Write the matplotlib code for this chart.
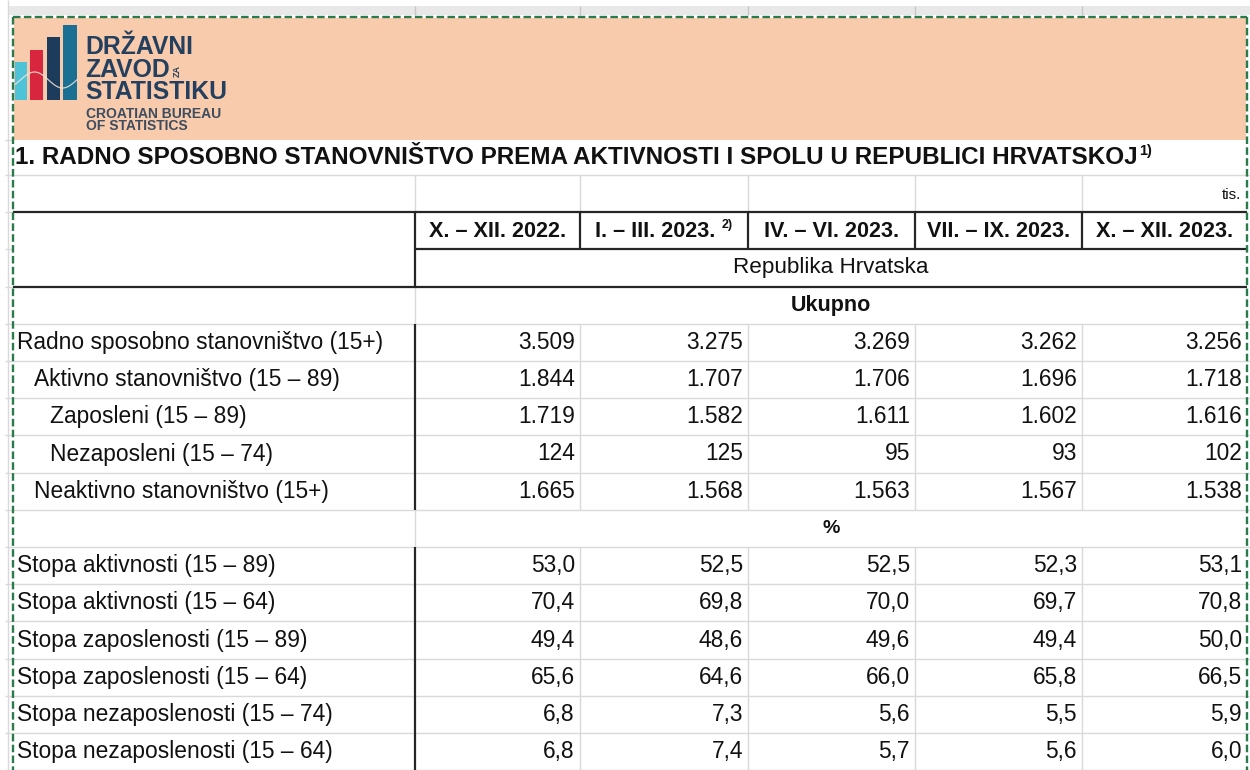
import matplotlib
matplotlib.use("Agg")
import matplotlib.pyplot as plt
from matplotlib.patches import Rectangle
import numpy as np

# ---------------- data ----------------
title = "1. RADNO SPOSOBNO STANOVNIŠTVO PREMA AKTIVNOSTI I SPOLU U REPUBLICI HRVATSKOJ"
title_note = "1)"
unit_label = "tis."
periods = ["X. – XII. 2022.", "I. – III. 2023.", "IV. – VI. 2023.", "VII. – IX. 2023.", "X. – XII. 2023."]
period_notes = ["", "2)", "", "", ""]
region = "Republika Hrvatska"
section_counts = "Ukupno"
section_rates = "%"

count_labels = ["Radno sposobno stanovništvo (15+)", "Aktivno stanovništvo (15 – 89)",
                "Zaposleni (15 – 89)", "Nezaposleni (15 – 74)", "Neaktivno stanovništvo (15+)"]
count_indent = [0, 1, 2, 2, 1]
radno = [3509, 3275, 3269, 3262, 3256]
aktivno = [1844, 1707, 1706, 1696, 1718]
zaposleni = [1719, 1582, 1611, 1602, 1616]
nezaposleni = [124, 125, 95, 93, 102]
neaktivno = [1665, 1568, 1563, 1567, 1538]
count_values = [radno, aktivno, zaposleni, nezaposleni, neaktivno]

rate_labels = ["Stopa aktivnosti (15 – 89)", "Stopa aktivnosti (15 – 64)",
               "Stopa zaposlenosti (15 – 89)", "Stopa zaposlenosti (15 – 64)",
               "Stopa nezaposlenosti (15 – 74)", "Stopa nezaposlenosti (15 – 64)"]
stopa_akt_89 = [53.0, 52.5, 52.5, 52.3, 53.1]
stopa_akt_64 = [70.4, 69.8, 70.0, 69.7, 70.8]
stopa_zap_89 = [49.4, 48.6, 49.6, 49.4, 50.0]
stopa_zap_64 = [65.6, 64.6, 66.0, 65.8, 66.5]
stopa_nez_74 = [6.8, 7.3, 5.6, 5.5, 5.9]
stopa_nez_64 = [6.8, 7.4, 5.7, 5.6, 6.0]
rate_values = [stopa_akt_89, stopa_akt_64, stopa_zap_89, stopa_zap_64, stopa_nez_74, stopa_nez_64]

# ---------------- layout / style ----------------
W, H = 1250, 770
FONT = ["Liberation Sans", "DejaVu Sans"]
plt.rcParams["font.family"] = FONT
col_edges = [13, 415, 580, 748, 915, 1082, 1247]
TOP, RH = 175.0, 37.2
n_rows = 16
row_top = [TOP + i * RH for i in range(n_rows + 1)]
GRID = "#d9d9d9"
DARK = "#262626"
GREEN = "#2b7a4b"
PEACH = "#f8cbad"
TXT = "#111111"

fig = plt.figure(figsize=(W / 100, H / 100), dpi=100)
ax = fig.add_axes([0, 0, 1, 1])
ax.set_xlim(0, W)
ax.set_ylim(H, 0)
ax.axis("off")

def hline(y, x0, x1, color=GRID, lw=1.0, z=2):
    ax.plot([x0, x1], [y, y], color=color, lw=lw, solid_capstyle="butt", zorder=z)

def vline(x, y0, y1, color=GRID, lw=1.0, z=2):
    ax.plot([x, x], [y0, y1], color=color, lw=lw, solid_capstyle="butt", zorder=z)

# top grey strip (spreadsheet row above)
ax.add_patch(Rectangle((8, 6), W - 8, 9, facecolor="#e8e8e8", edgecolor="none", zorder=1))
for x in col_edges[1:-1]:
    vline(x, 6, 15, color="#c6c6c6")
vline(8, 0, H)

# peach banner
ax.add_patch(Rectangle((14, 18), 1232, 122, facecolor=PEACH, edgecolor="none", zorder=1))
hline(140, 5, 13)
hline(row_top[0], 5, W)

# logo bars
logo_bars = [(15, 62, 12, "#4ec3d8"), (30, 50, 13, "#d7263d"), (47, 37, 13, "#1d3b5a"), (63, 25, 14, "#1a6f92")]
for x, y, w, c in logo_bars:
    ax.add_patch(Rectangle((x, y), w, 100 - y, facecolor=c, edgecolor="none", zorder=3))
wave_x = np.linspace(15, 77, 60)
wave_y = 80 - 8 * np.sin((wave_x - 15) / 62 * 2.2 * np.pi - 0.6)
ax.plot(wave_x, wave_y, color="#f4e6dc", lw=0.9, alpha=0.85, zorder=4)
NAVY = "#24405e"
ax.text(85, 47, "DRŽAVNI", fontsize=17.8, fontweight="bold", color=NAVY, va="center", ha="left", zorder=5)
ax.text(85, 70, "ZAVOD", fontsize=17.8, fontweight="bold", color=NAVY, va="center", ha="left", zorder=5)
ax.text(177, 71, "ZA", fontsize=6.5, fontweight="bold", color=NAVY, va="center", ha="center", rotation=90, zorder=5)
ax.text(85, 92, "STATISTIKU", fontsize=17.8, fontweight="bold", color=NAVY, va="center", ha="left", zorder=5)
ax.text(86, 114.5, "CROATIAN BUREAU", fontsize=10, fontweight="bold", color="#3d4c5e", va="center", ha="left", zorder=5)
ax.text(86, 126.5, "OF STATISTICS", fontsize=10, fontweight="bold", color="#3d4c5e", va="center", ha="left", zorder=5)

# title
t_title = ax.text(15, 158, title, fontsize=17.5, fontweight="bold", color=TXT, va="center", ha="left", zorder=5)

# ---------------- grid lines ----------------
hline(row_top[1], 5, 13)
hline(row_top[1], 13, 1247, color=DARK, lw=1.6, z=3)
hline(row_top[2], 5, 13)
hline(row_top[2], col_edges[1], 1247, color=DARK, lw=1.6, z=3)
hline(row_top[3], 5, 13)
hline(row_top[3], 13, 1247, color=DARK, lw=1.6, z=3)
for i in range(4, n_rows + 1):
    hline(row_top[i], 5, W)

x1 = col_edges[1]
vline(x1, row_top[0], row_top[1])
vline(x1, row_top[1], row_top[3], color=DARK, lw=1.6, z=3)
vline(x1, row_top[3], row_top[4])
vline(x1, row_top[4], row_top[9], color=DARK, lw=1.6, z=3)
vline(x1, row_top[9], row_top[10])
vline(x1, row_top[10], H, color=DARK, lw=1.6, z=3)
for x in col_edges[2:-1]:
    vline(x, row_top[0], row_top[1])
    vline(x, row_top[1], row_top[2], color=DARK, lw=1.6, z=3)
    vline(x, row_top[4], row_top[9])
    vline(x, row_top[10], H)

# dashed print-area border
dash = dict(color=GREEN, lw=1.7, linestyle=(0, (3.2, 1.4)), zorder=6)
ax.plot([13, 1247], [17, 17], **dash)
ax.plot([13, 13], [17, H], **dash)
ax.plot([1247, 1247], [17, H], **dash)

# ---------------- texts ----------------
def rc(i):
    return (row_top[i] + row_top[i + 1]) / 2

ax.text(1241, rc(0) + 1, unit_label, fontsize=11, color=TXT, ha="right", va="center", zorder=5)

data_mid = (col_edges[1] + col_edges[-1]) / 2
ax.text(data_mid, rc(2), region, fontsize=16.2, color=TXT, ha="center", va="center", zorder=5)
ax.text(data_mid, rc(3), section_counts, fontsize=15.5, fontweight="bold", color=TXT, ha="center", va="center", zorder=5)
ax.text(data_mid, rc(9), section_rates, fontsize=14, fontweight="bold", color=TXT, ha="center", va="center", zorder=5)

fig.canvas.draw()
renderer = fig.canvas.get_renderer()
inv = ax.transData.inverted()

def right_data_x(t):
    bb = t.get_window_extent(renderer)
    return inv.transform((bb.x1, bb.y1))[0]

tx = right_data_x(t_title)
ax.text(tx + 2, 151, title_note, fontsize=10.5, fontweight="bold", color=TXT, ha="left", va="center", zorder=5)

for j, (p, note) in enumerate(zip(periods, period_notes)):
    cx = (col_edges[j + 1] + col_edges[j + 2]) / 2
    if note:
        t = ax.text(cx - 9, rc(1) + 1, p, fontsize=15.6, fontweight="bold", color=TXT, ha="center", va="center", zorder=5)
        fig.canvas.draw()
        ax.text(right_data_x(t) + 6, rc(1) - 6, note, fontsize=9, fontweight="bold", color=TXT,
                ha="left", va="center", zorder=5)
    else:
        ax.text(cx, rc(1) + 1, p, fontsize=15.6, fontweight="bold", color=TXT, ha="center", va="center", zorder=5)

def fmt_int(v):
    return f"{v:,}".replace(",", ".")

def fmt_dec(v):
    return f"{v:.1f}".replace(".", ",")

LBL_FS = 16.4
for k, (lab, ind, vals) in enumerate(zip(count_labels, count_indent, count_values)):
    r = 4 + k
    ax.text(17 + 16.5 * ind, rc(r), lab, fontsize=LBL_FS, color=TXT, ha="left", va="center", zorder=5)
    for j, v in enumerate(vals):
        ax.text(col_edges[j + 2] - 5, rc(r), fmt_int(v), fontsize=LBL_FS, color=TXT, ha="right", va="center", zorder=5)

for k, (lab, vals) in enumerate(zip(rate_labels, rate_values)):
    r = 10 + k
    ax.text(17, rc(r), lab, fontsize=LBL_FS, color=TXT, ha="left", va="center", zorder=5)
    for j, v in enumerate(vals):
        ax.text(col_edges[j + 2] - 5, rc(r), fmt_dec(v), fontsize=LBL_FS, color=TXT, ha="right", va="center", zorder=5)

fig.savefig("out.png", dpi=100)
